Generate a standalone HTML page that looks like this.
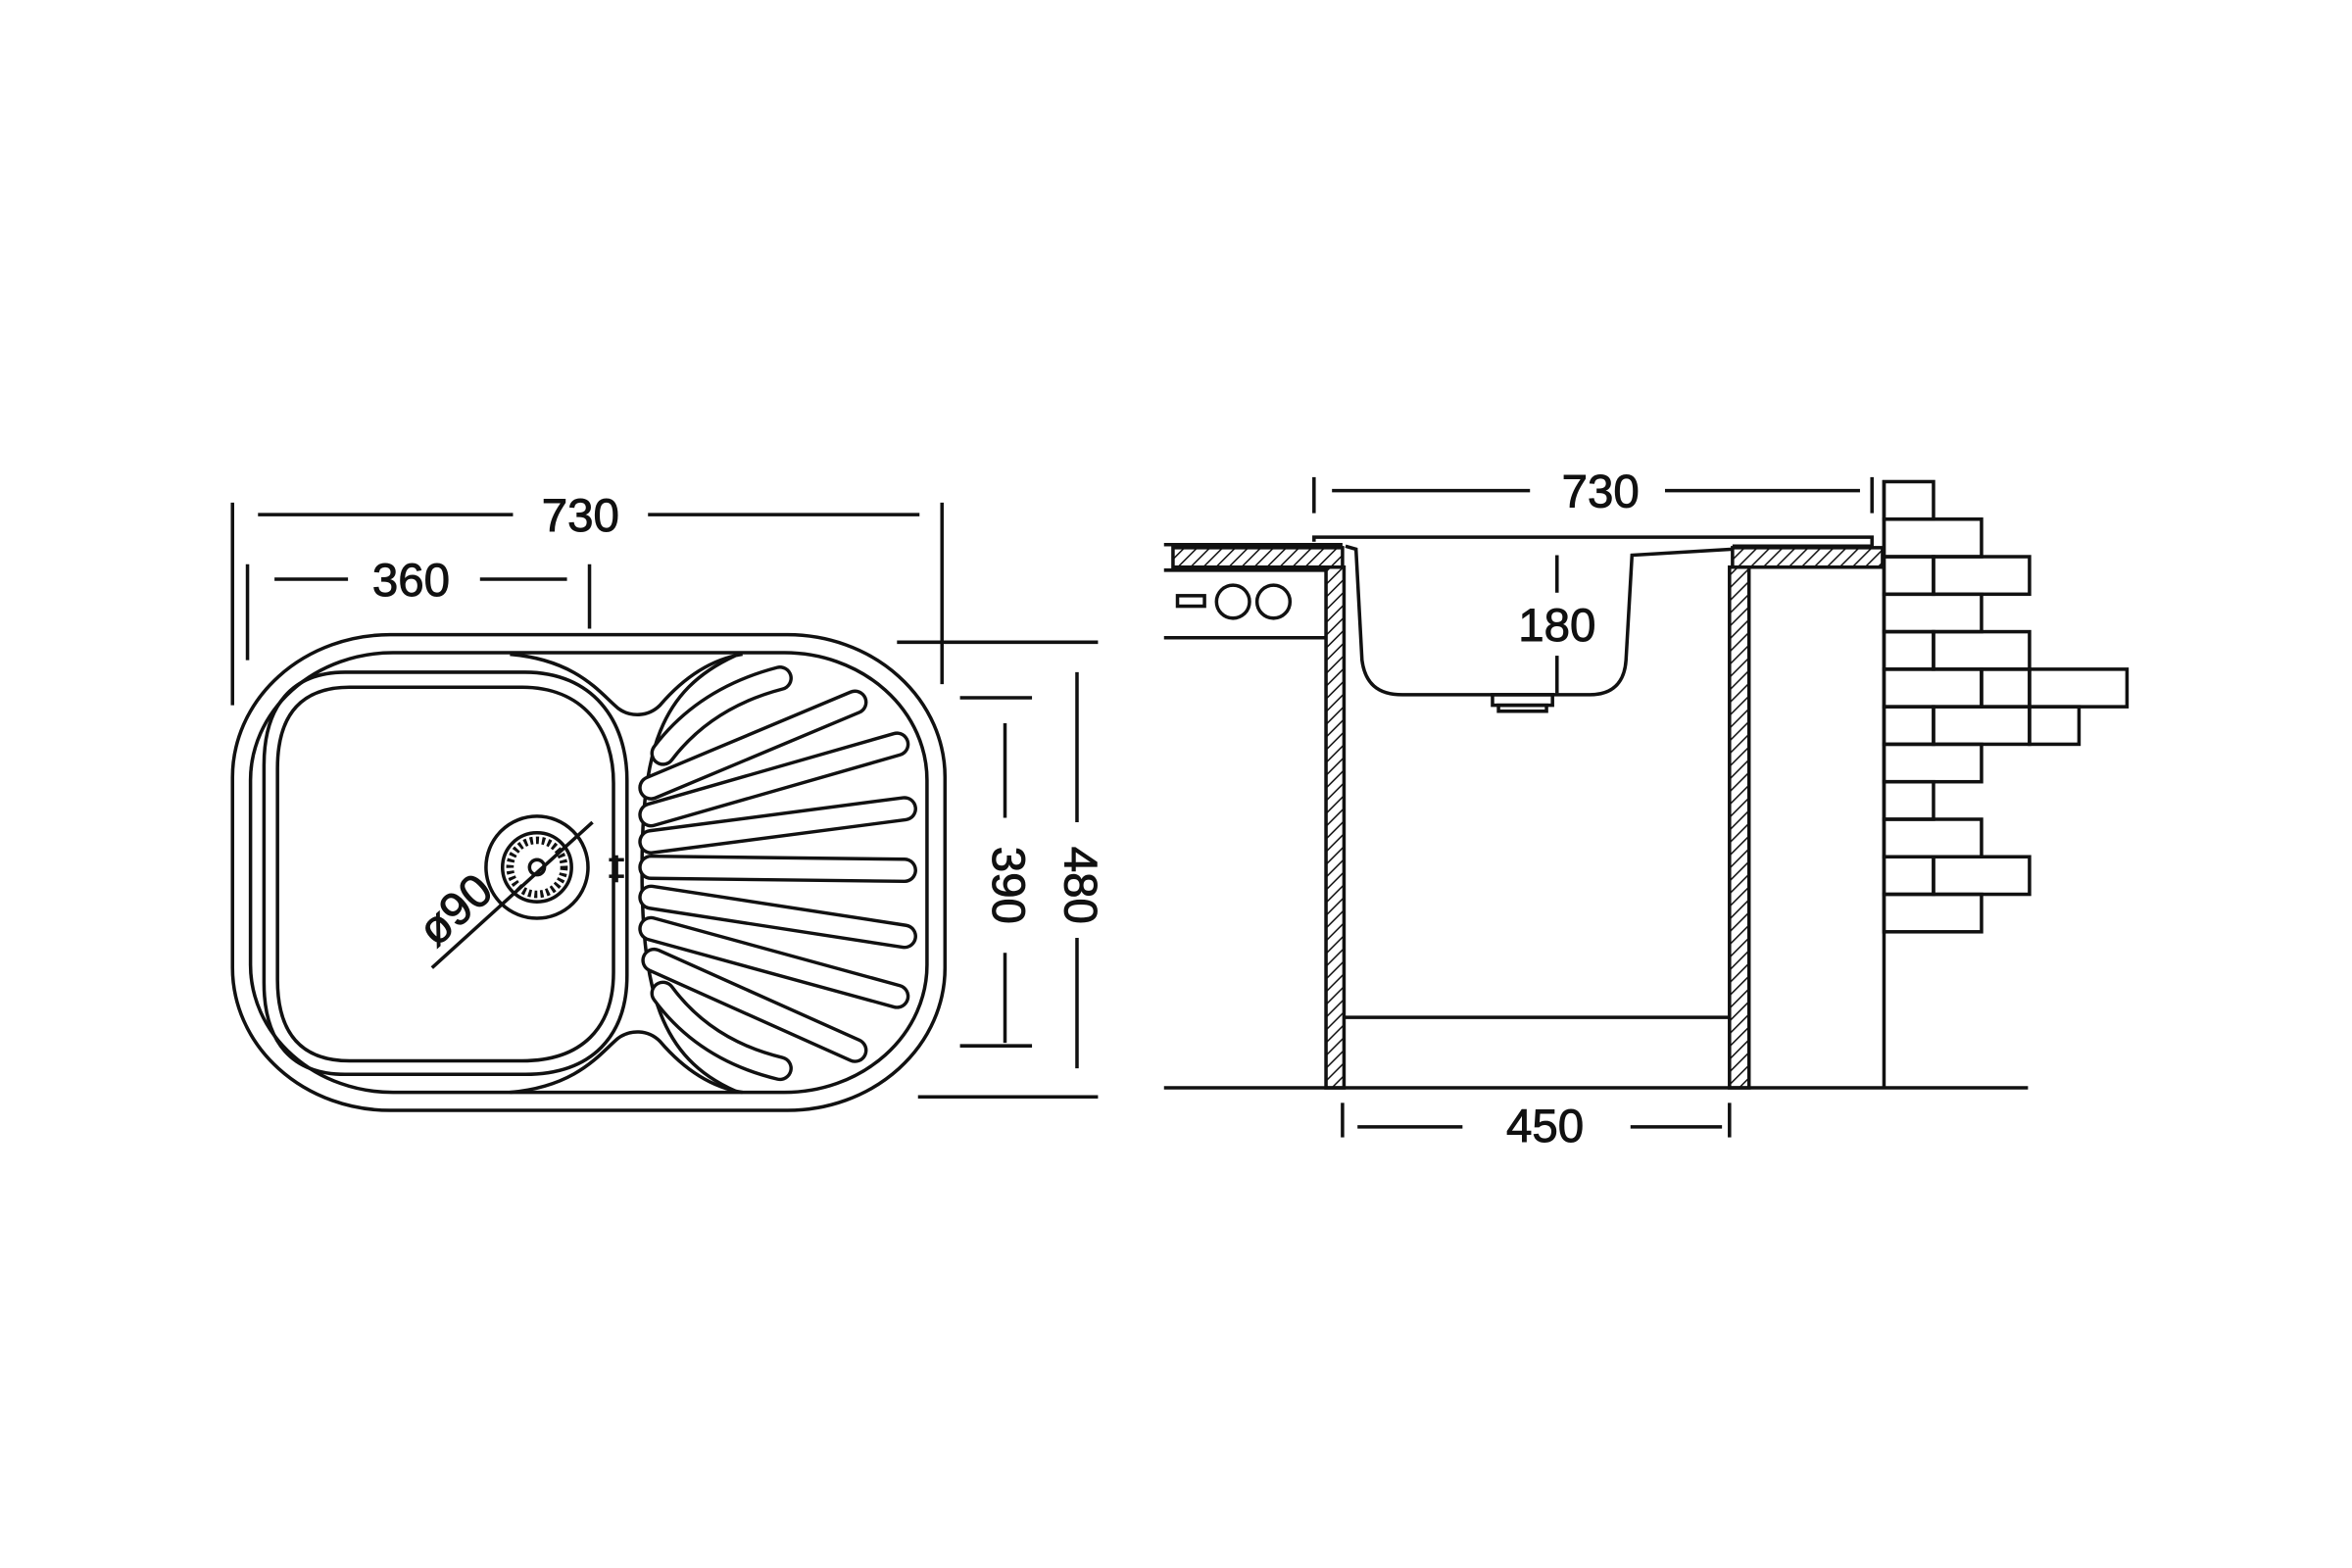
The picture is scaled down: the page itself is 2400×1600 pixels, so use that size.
<!DOCTYPE html>
<html><head><meta charset="utf-8"><style>html,body{margin:0;padding:0;background:#fff}svg{display:block}</style></head>
<body>
<svg width="2400" height="1600" viewBox="0 0 1568 1045" preserveAspectRatio="none" xmlns="http://www.w3.org/2000/svg">
<defs>
<pattern id="h" width="6" height="6" patternUnits="userSpaceOnUse" patternTransform="rotate(45)">
<rect width="6" height="6" fill="#fff"/><line x1="0" y1="0" x2="0" y2="6" stroke="#111" stroke-width="2"/></pattern>
</defs>
<g fill="none" stroke="#111" stroke-width="2.3">
<line x1="155" y1="335" x2="155" y2="470"/>
<line x1="628" y1="335" x2="628" y2="456"/>
<line x1="172" y1="343" x2="342" y2="343"/><line x1="432" y1="343" x2="613" y2="343"/>
<line x1="165" y1="376" x2="165" y2="440"/>
<line x1="393" y1="376" x2="393" y2="419"/>
<line x1="183" y1="386" x2="232" y2="386"/><line x1="320" y1="386" x2="378" y2="386"/>
<line x1="598" y1="428" x2="732" y2="428"/>
<line x1="612" y1="731" x2="732" y2="731"/>
<line x1="640" y1="465" x2="688" y2="465"/><line x1="640" y1="697" x2="688" y2="697"/>
<line x1="670" y1="482" x2="670" y2="545"/><line x1="670" y1="635" x2="670" y2="695"/>
<line x1="718" y1="448" x2="718" y2="548"/><line x1="718" y1="625" x2="718" y2="712"/>
<rect x="155" y="423" width="475" height="317" rx="105" ry="95"/>
<rect x="167" y="435" width="451" height="293" rx="95" ry="85"/>
<path d="M340 436 C385 440 400 462 412 472 C420 478 432 478 440 470 C452 456 470 440 495 436"/>
<path d="M340 728 C385 724 400 702 412 692 C420 686 432 686 440 694 C452 708 470 724 495 728"/>
<path d="M230 448 L350 448 C395 448 418 480 418 520 L418 650 C418 690 395 716 350 716 L230 716 C195 716 176 695 176 655 L176 510 C176 470 195 448 230 448 Z"/>
<path d="M233 458 L348 458 C388 458 409 485 409 522 L409 648 C409 685 388 707 348 707 L233 707 C202 707 185 690 185 653 L185 512 C185 475 202 458 233 458 Z"/>
<path d="M490 437 C440 460 428 500 428 580 C428 660 440 705 490 727"/>
<circle cx="358" cy="578" r="34"/>
<circle cx="358" cy="578" r="23"/>
<circle cx="358" cy="578" r="18" stroke-dasharray="2 2" stroke-width="5"/>
<circle cx="358" cy="578" r="5"/>
<line x1="395" y1="548" x2="288" y2="645"/>
<line x1="406" y1="573" x2="416" y2="573"/><line x1="406" y1="584" x2="416" y2="584"/><line x1="411" y1="570" x2="411" y2="588"/>
<line x1="876" y1="318" x2="876" y2="342"/><line x1="1248" y1="318" x2="1248" y2="342"/>
<line x1="888" y1="327" x2="1020" y2="327"/><line x1="1110" y1="327" x2="1240" y2="327"/>
<line x1="776" y1="363" x2="895" y2="363"/>
<rect x="782" y="365" width="113" height="13" fill="url(#h)"/>
<rect x="1155" y="365" width="100" height="13" fill="url(#h)"/>
<line x1="776" y1="380" x2="884" y2="380"/>
<line x1="776" y1="425" x2="884" y2="425"/>
<rect x="785" y="397" width="18" height="7"/>
<circle cx="822" cy="401" r="11"/><circle cx="849" cy="401" r="11"/>
<rect x="884" y="378" width="12" height="347" fill="url(#h)"/>
<rect x="1153" y="378" width="13" height="347" fill="url(#h)"/>
<path d="M876 361 L876 358 L1248 358 L1248 364 L1155 364"/>
<path d="M897 364 L904 366 L908 440 C910 455 918 463 935 463 L1060 463 C1075 463 1083 455 1084 440 L1088 370 L1155 366"/>
<rect x="995" y="463" width="40" height="7"/><rect x="999" y="470" width="32" height="4"/>
<line x1="1038" y1="370" x2="1038" y2="395"/><line x1="1038" y1="437" x2="1038" y2="462"/>
<line x1="896" y1="678" x2="1153" y2="678"/>
<line x1="776" y1="725" x2="1352" y2="725"/>
<line x1="1256" y1="320" x2="1256" y2="725"/>
<line x1="895" y1="735" x2="895" y2="758"/><line x1="1153" y1="735" x2="1153" y2="758"/>
<line x1="905" y1="751" x2="975" y2="751"/><line x1="1087" y1="751" x2="1148" y2="751"/>
<rect x="1256" y="321" width="33" height="25"/>
<rect x="1256" y="346" width="65" height="25"/>
<rect x="1256" y="371" width="33" height="25"/><rect x="1289" y="371" width="64" height="25"/>
<rect x="1256" y="396" width="65" height="25"/>
<rect x="1256" y="421" width="33" height="25"/><rect x="1289" y="421" width="64" height="25"/>
<rect x="1256" y="446" width="65" height="25"/><rect x="1321" y="446" width="32" height="25"/><rect x="1353" y="446" width="65" height="25"/>
<rect x="1256" y="471" width="33" height="25"/><rect x="1289" y="471" width="64" height="25"/><rect x="1353" y="471" width="33" height="25"/>
<rect x="1256" y="496" width="65" height="25"/>
<rect x="1256" y="521" width="33" height="25"/>
<rect x="1256" y="546" width="65" height="25"/>
<rect x="1256" y="571" width="33" height="25"/><rect x="1289" y="571" width="64" height="25"/>
<rect x="1256" y="596" width="65" height="25"/>
</g>
<g fill="none" stroke-linecap="round">
<g stroke="#111" stroke-width="17">
<path d="M442 502 Q470 465 520 452"/>
<line x1="434" y1="525" x2="570" y2="468"/>
<line x1="434" y1="543" x2="598" y2="496"/>
<line x1="434" y1="561" x2="603" y2="539"/>
<line x1="434" y1="578" x2="603" y2="580"/>
<line x1="434" y1="598" x2="603" y2="624"/>
<line x1="434" y1="619" x2="598" y2="664"/>
<line x1="436" y1="640" x2="570" y2="700"/>
<path d="M442 662 Q470 700 520 712"/>
</g>
<g stroke="#fff" stroke-width="12.5">
<path d="M442 502 Q470 465 520 452"/>
<line x1="434" y1="525" x2="570" y2="468"/>
<line x1="434" y1="543" x2="598" y2="496"/>
<line x1="434" y1="561" x2="603" y2="539"/>
<line x1="434" y1="578" x2="603" y2="580"/>
<line x1="434" y1="598" x2="603" y2="624"/>
<line x1="434" y1="619" x2="598" y2="664"/>
<line x1="436" y1="640" x2="570" y2="700"/>
<path d="M442 662 Q470 700 520 712"/>
</g>
</g>
<g font-family="Liberation Sans, Arial, sans-serif" font-size="31" fill="#111" stroke="#111" stroke-width="0.6" text-anchor="middle">
<text x="387" y="354">730</text>
<text x="274" y="397">360</text>
<text x="670" y="590" transform="rotate(90 670 590)" dominant-baseline="middle">390</text>
<text x="718" y="590" transform="rotate(90 718 590)" dominant-baseline="middle">480</text>
<text x="305" y="608" transform="rotate(-42 305 608)" dominant-baseline="middle">ø90</text>
<text x="1067" y="338">730</text>
<text x="1038" y="427">180</text>
<text x="1030" y="761">450</text>
</g>
</svg>
</body></html>
